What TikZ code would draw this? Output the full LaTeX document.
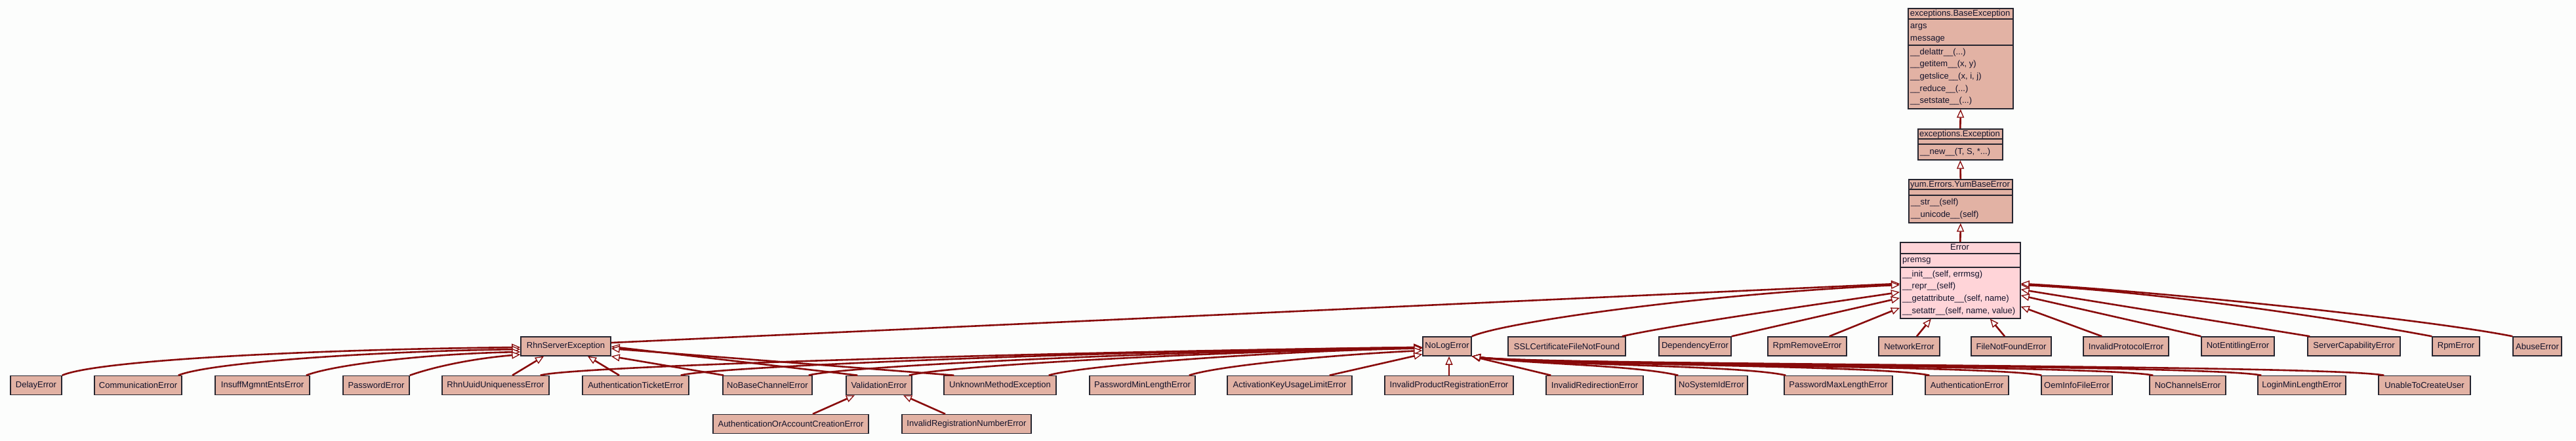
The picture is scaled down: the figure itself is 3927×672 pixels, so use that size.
\documentclass[tikz,border=0pt]{standalone}
\usepackage{fontspec}
\setmainfont{Liberation Sans}
\usetikzlibrary{arrows.meta}
\definecolor{boxfill}{HTML}{E2B2A4}
\definecolor{selfill}{HTML}{FFD4D8}
\definecolor{edgecol}{HTML}{880A0A}
\definecolor{bordercol}{HTML}{25252F}
\definecolor{txtcol}{HTML}{12122A}
\definecolor{bgcol}{HTML}{FCFDFC}
\newcommand\klass[4]{\node[cbox, minimum width=#4pt] (#1) at (#2,#3) {#1};}
\begin{document}
\begin{tikzpicture}[x=1pt,y=-1pt,
  every node/.style={font=\fontsize{13pt}{15pt}\selectfont, text=txtcol},
  cbox/.style={draw=bordercol, line width=1.5pt, fill=boxfill, inner sep=0pt, minimum height=29pt},
  ubox/.style={draw=bordercol, line width=1.6pt, inner sep=0pt, anchor=north west},
  sep/.style={draw=bordercol, line width=1.6pt},
  ttl/.style={inner sep=0pt, anchor=base},
  mem/.style={inner sep=0pt, anchor=base west},
  inh/.style={draw=edgecol, line width=2.6pt, -{Triangle[length=13pt,width=11pt,fill=white,line width=1.3pt]}},
]
\fill[bgcol] (0,0) rectangle (3927,672);
\path[use as bounding box] (0,0) rectangle (3927,672);

% ---------- exceptions.BaseException
\node[ubox, fill=boxfill, minimum width=160pt, minimum height=153pt] (BaseExc) at (2908,12) {};
\draw[sep] (2908,29) -- (3068,29) (2908,69) -- (3068,69);
\node[ttl] (BaseExcT) at (2988,24.5) {exceptions.BaseException};
\node[mem] (BaseExcA1) at (2912,43) {args};
\node[mem] (BaseExcA2) at (2912,62) {message};
\node[mem] (BaseExcM1) at (2912,83) {\_\_delattr\_\_(...)};
\node[mem] (BaseExcM2) at (2912,101.5) {\_\_getitem\_\_(x, y)};
\node[mem] (BaseExcM3) at (2912,120) {\_\_getslice\_\_(x, i, j)};
\node[mem] (BaseExcM4) at (2912,139) {\_\_reduce\_\_(...)};
\node[mem] (BaseExcM5) at (2912,157.5) {\_\_setstate\_\_(...)};

% ---------- exceptions.Exception
\node[ubox, fill=boxfill, minimum width=129pt, minimum height=47pt] (Exc) at (2923,196) {};
\draw[sep] (2923,212) -- (3052,212) (2923,220) -- (3052,220);
\node[ttl] (ExcT) at (2987.5,208.3) {exceptions.Exception};
\node[mem] (ExcM1) at (2927,235.7) {\_\_new\_\_(T, S, *...)};

% ---------- yum.Errors.YumBaseError
\node[ubox, fill=boxfill, minimum width=158pt, minimum height=66pt] (YumBase) at (2909,273) {};
\draw[sep] (2909,289) -- (3067,289) (2909,298) -- (3067,298);
\node[ttl] (YumBaseT) at (2988,285.7) {yum.Errors.YumBaseError};
\node[mem] (YumBaseM1) at (2913,312.3) {\_\_str\_\_(self)};
\node[mem] (YumBaseM2) at (2913,331) {\_\_unicode\_\_(self)};

% ---------- Error
\node[ubox, fill=selfill, minimum width=183pt, minimum height=116pt] (Error) at (2896,369) {};
\draw[sep] (2896,387) -- (3079,387) (2896,408) -- (3079,408);
\node[ttl] (ErrorT) at (2987.5,381) {Error};
\node[mem] (ErrorA1) at (2900,400.7) {premsg};
\node[mem] (ErrorM1) at (2900,422.7) {\_\_init\_\_(self, errmsg)};
\node[mem] (ErrorM2) at (2900,440.7) {\_\_repr\_\_(self)};
\node[mem] (ErrorM3) at (2900,459.7) {\_\_getattribute\_\_(self, name)};
\node[mem] (ErrorM4) at (2900,478.3) {\_\_setattr\_\_(self, name, value)};

% ---------- row A
\klass{RhnServerException}{862.5}{528.5}{137}
\klass{NoLogError}{2206}{528.5}{74}
\klass{SSLCertificateFileNotFound}{2388.5}{528.5}{179}
\klass{DependencyError}{2584}{528.5}{110}
\klass{RpmRemoveError}{2755}{528.5}{120}
\klass{NetworkError}{2910.5}{528.5}{93}
\klass{FileNotFoundError}{3066}{528.5}{122}
\klass{InvalidProtocolError}{3241}{528.5}{130}
\klass{NotEntitlingError}{3411.5}{528.5}{111}
\klass{ServerCapabilityError}{3588.5}{528.5}{141}
\klass{RpmError}{3744}{528.5}{72}
\klass{AbuseError}{3868}{528.5}{74}

% ---------- row B
\klass{DelayError}{55}{588}{78}
\klass{CommunicationError}{210.5}{588}{133}
\klass{InsuffMgmntEntsError}{400}{588}{144}
\klass{PasswordError}{573.5}{588}{101}
\klass{RhnUuidUniquenessError}{755.5}{588}{163}
\klass{AuthenticationTicketError}{969}{588}{162}
\klass{NoBaseChannelError}{1170}{588}{136}
\klass{ValidationError}{1340}{588}{100}
\klass{UnknownMethodException}{1524.5}{588}{171}
\klass{PasswordMinLengthError}{1741.5}{588}{161}
\klass{ActivationKeyUsageLimitError}{1966}{588}{190}
\klass{InvalidProductRegistrationError}{2209}{588}{196}
\klass{InvalidRedirectionError}{2431}{588}{148}
\klass{NoSystemIdError}{2609}{588}{110}
\klass{PasswordMaxLengthError}{2802.5}{588}{165}
\klass{AuthenticationError}{2998.5}{588}{127}
\klass{OemInfoFileError}{3166}{588}{108}
\klass{NoChannelsError}{3335}{588}{116}
\klass{LoginMinLengthError}{3509}{588}{134}
\klass{UnableToCreateUser}{3696}{588}{140}

% ---------- row C
\klass{AuthenticationOrAccountCreationError}{1205.5}{647}{237}
\klass{InvalidRegistrationNumberError}{1473.5}{647}{197}

% ---------- top chain
\draw[inh] (Exc.north) -- (BaseExc.south);
\draw[inh] (YumBase.north) -- (Exc.south);
\draw[inh] (Error.north) -- (YumBase.south);

% ---------- children of Error
\draw[inh] ([yshift=5.5pt]RhnServerException.east) -- ([yshift=-5pt]Error.west);
\draw[inh] (NoLogError.north east) .. controls +(50,-22) and +(-300,14) .. ([yshift=-7pt]Error.west);
\draw[inh] ([xshift=-6pt]SSLCertificateFileNotFound.north east) .. controls +(80,-18) and +(-120,18) .. ([yshift=-18pt]Error.west);
\draw[inh] (DependencyError.north east) -- ([yshift=-27pt]Error.west);
\draw[inh] ([xshift=-27pt]RpmRemoveError.north east) -- ([yshift=-42pt]Error.west);
\draw[inh] ([xshift=11.5pt]NetworkError.north) -- ([xshift=-44.5pt]Error.south);
\draw[inh] ([xshift=-10pt]FileNotFoundError.north) -- ([xshift=45.5pt]Error.south);
\draw[inh] ([xshift=29pt]InvalidProtocolError.north west) -- ([yshift=-40pt]Error.east);
\draw[inh] (NotEntitlingError.north west) -- ([yshift=-23pt]Error.east);
\draw[inh] ([xshift=4pt]ServerCapabilityError.north west) -- ([yshift=-14pt]Error.east);
\draw[inh] (RpmError.north west) .. controls +(-128,-24) and +(220,11) .. ([yshift=-7pt]Error.east);
\draw[inh] (AbuseError.north west) .. controls +(-131,-26) and +(220,13) .. ([yshift=-5pt]Error.east);

% ---------- children of RhnServerException
\draw[inh] (DelayError.north east) .. controls +(56,-24) and +(-300,3) .. ([yshift=-1.5pt]RhnServerException.west);
\draw[inh] ([xshift=-6pt]CommunicationError.north east) .. controls +(50,-20) and +(-220,3) .. ([yshift=-4.5pt]RhnServerException.west);
\draw[inh] ([xshift=-6pt]InsuffMgmntEntsError.north east) .. controls +(45,-17) and +(-140,3) .. ([yshift=-8.5pt]RhnServerException.west);
\draw[inh] (PasswordError.north east) .. controls +(40,-14) and +(-70,6) .. ([yshift=-12.5pt]RhnServerException.west);
\draw[inh] ([xshift=25.5pt]RhnUuidUniquenessError.north) -- ([xshift=-33.5pt]RhnServerException.south);
\draw[inh] ([xshift=-25pt]AuthenticationTicketError.north) -- ([xshift=33.5pt]RhnServerException.south);
\draw[inh] ([xshift=2pt]NoBaseChannelError.north west) -- (RhnServerException.south east);
\draw[inh] ([xshift=18pt]ValidationError.north west) -- ([yshift=-0.5pt]RhnServerException.east);
\draw[inh] ([xshift=16pt]UnknownMethodException.north west) -- ([yshift=-3.5pt]RhnServerException.east);

% ---------- children of NoLogError
\draw[inh] ([xshift=-14pt]RhnUuidUniquenessError.north east) .. controls +(47,-14) and +(-570,7) .. ([yshift=-1.5pt]NoLogError.west);
\draw[inh] ([xshift=-13pt]AuthenticationTicketError.north east) .. controls +(45,-13) and +(-500,6) .. ([yshift=-1.5pt]NoLogError.west);
\draw[inh] ([xshift=-6pt]NoBaseChannelError.north east) .. controls +(45,-13) and +(-420,6) .. ([yshift=-2pt]NoLogError.west);
\draw[inh] ([xshift=-5pt]ValidationError.north east) .. controls +(45,-13) and +(-350,6) .. ([yshift=-2.5pt]NoLogError.west);
\draw[inh] ([xshift=-12pt]UnknownMethodException.north east) .. controls +(45,-14) and +(-250,5) .. ([yshift=-3pt]NoLogError.west);
\draw[inh] ([xshift=-10pt]PasswordMinLengthError.north east) .. controls +(45,-15) and +(-130,6) .. ([yshift=-6.5pt]NoLogError.west);
\draw[inh] ([xshift=-35pt]ActivationKeyUsageLimitError.north east) -- ([yshift=-12pt]NoLogError.west);
\draw[inh] (InvalidProductRegistrationError.north) -- (InvalidProductRegistrationError.north |- NoLogError.south);
\draw[inh] ([xshift=8pt]InvalidRedirectionError.north west) -- (NoLogError.south east);
\draw[inh] ([xshift=5pt]NoSystemIdError.north west) .. controls +(-70,-16) and +(90,12) .. (NoLogError.south east);
\draw[inh] ([xshift=3pt]PasswordMaxLengthError.north west) .. controls +(-70,-16) and +(95,13) .. (NoLogError.south east);
\draw[inh] ([xshift=7pt]AuthenticationError.north west) .. controls +(-75,-16) and +(100,13) .. (NoLogError.south east);
\draw[inh] ([xshift=1pt]OemInfoFileError.north west) .. controls +(-80,-16) and +(100,14) .. (NoLogError.south east);
\draw[inh] ([xshift=6pt]NoChannelsError.north west) .. controls +(-80,-16) and +(100,14) .. (NoLogError.south east);
\draw[inh] ([xshift=6pt]LoginMinLengthError.north west) .. controls +(-85,-17) and +(105,14) .. (NoLogError.south east);
\draw[inh] ([xshift=9pt]UnableToCreateUser.north west) .. controls +(-90,-17) and +(105,14) .. (NoLogError.south east);

% ---------- children of ValidationError
\draw[inh] ([xshift=33.5pt]AuthenticationOrAccountCreationError.north) -- ([xshift=-37pt]ValidationError.south);
\draw[inh] ([xshift=-32.5pt]InvalidRegistrationNumberError.north) -- ([xshift=37pt]ValidationError.south);
\end{tikzpicture}
\end{document}
